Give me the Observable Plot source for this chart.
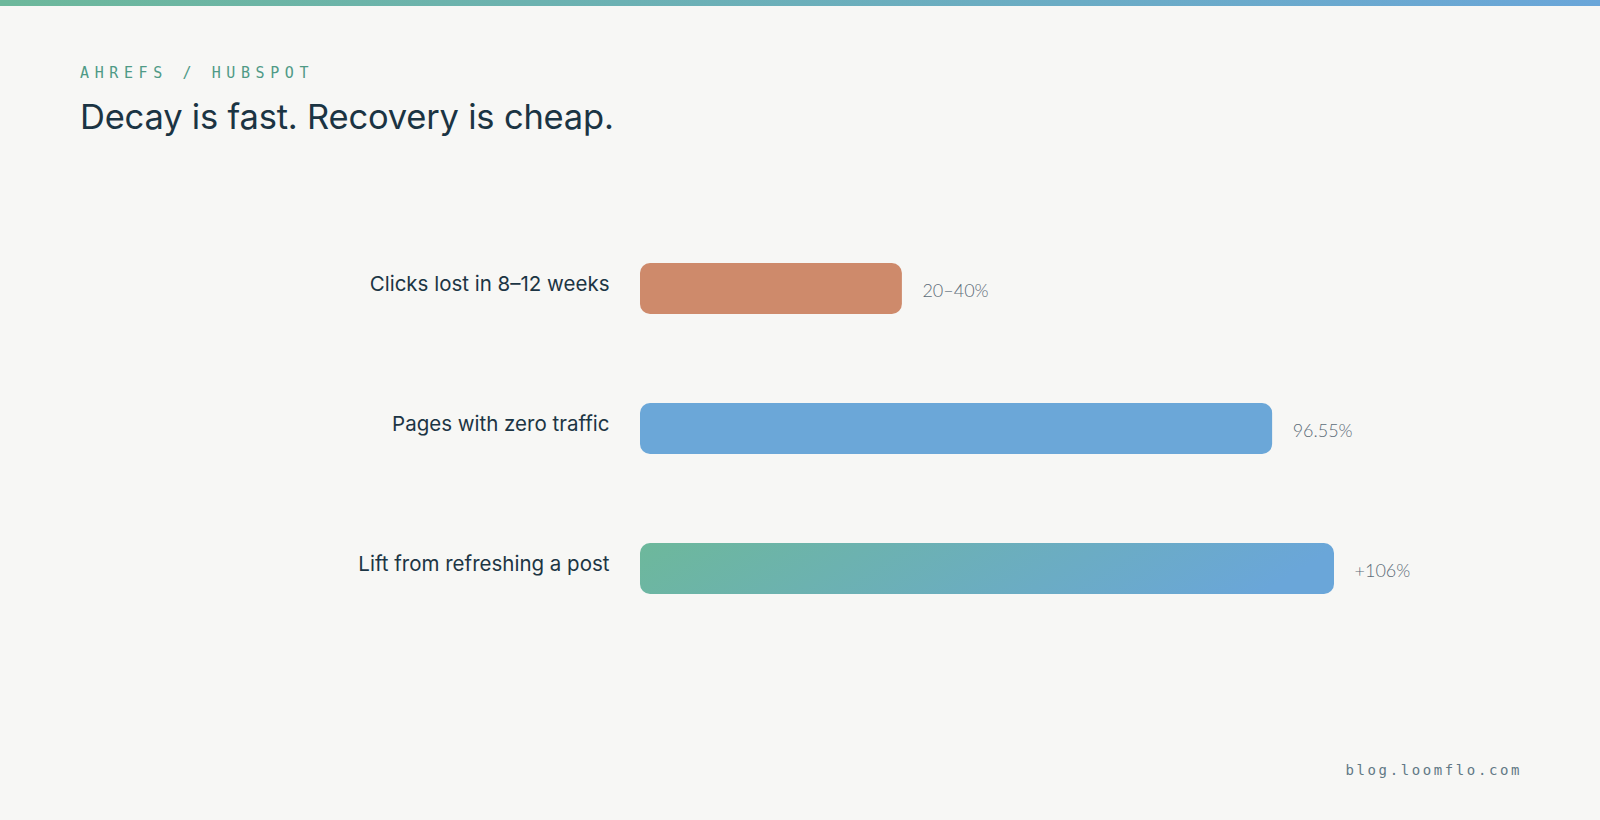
<!DOCTYPE html>
<html>
<head>
<meta charset="utf-8">
<script src="https://cdn.jsdelivr.net/npm/d3@7"></script>
<script src="https://cdn.jsdelivr.net/npm/@observablehq/plot@0.6"></script>
<style>
  html, body { margin: 0; padding: 0; background: #f7f7f5; }
  body { width: 1600px; height: 820px; position: relative; overflow: hidden; font-family: Inter, "Noto Sans", sans-serif; }
  .stripe { position: absolute; left: 0; top: 0; width: 1600px; height: 6px; background: linear-gradient(90deg, #6db89b, #6aa6d9); }
  .kicker { position: absolute; left: 80px; top: 64px; font-family: "DejaVu Sans Mono", monospace; font-size: 15px; letter-spacing: 5.6px; color: #4f9a86; }
  .title { position: absolute; left: 80px; top: 96px; font-size: 34.5px; font-weight: 400; color: #1b3443; letter-spacing: -0.2px; }
  .footer { position: absolute; right: 78px; top: 762px; font-family: "DejaVu Sans Mono", monospace; font-size: 14px; letter-spacing: 2.6px; color: #627985; font-weight: 400; }
  #chart { position: absolute; left: 0; top: 218px; }
</style>
</head>
<body>
<div class="stripe"></div>
<div class="kicker">AHREFS / HUBSPOT</div>
<div class="title">Decay is fast. Recovery is cheap.</div>
<div id="chart"></div>
<div class="footer">blog.loomflo.com</div>
<script>
const categories = ["Clicks lost in 8–12 weeks", "Pages with zero traffic", "Lift from refreshing a post"];
const values = [40, 96.55, 106];
const valueLabels = ["20–40%", "96.55%", "+106%"];
const barColors = ["#ce8a6b", "#6ba7d8", "url(#liftGradient)"];

const data = categories.map((c, i) => ({category: c, value: values[i], label: valueLabels[i], color: barColors[i]}));

const chart = Plot.plot({
  width: 1600,
  height: 420,
  marginLeft: 640,
  marginRight: 266,
  marginTop: 0,
  marginBottom: 0,
  style: {background: "transparent", overflow: "visible"},
  x: {domain: [0, 106], axis: null},
  y: {domain: categories, axis: null, paddingInner: 0.636, paddingOuter: 0.318},
  color: {type: "identity"},
  marks: [
    Plot.barX(data, {x: "value", y: "category", fill: "color", rx: 10, ry: 10}),
    Plot.text(data, {x: 0, y: "category", text: "category", textAnchor: "end", dx: -31, dy: -5,
      fontSize: 20.5, fontWeight: 400, fill: "#1c3544", fontFamily: "Inter, sans-serif"}),
    Plot.text(data, {x: "value", y: "category", text: "label", textAnchor: "start", dx: 20, dy: 2,
      fontSize: 18, fontWeight: 300, fill: "#5d6c78", fontFamily: "Lato, sans-serif"})
  ]
});

const defs = d3.select(chart).insert("defs", ":first-child");
const grad = defs.append("linearGradient").attr("id", "liftGradient")
  .attr("x1", 0).attr("y1", 0).attr("x2", 1).attr("y2", 0.12);
grad.append("stop").attr("offset", "0%").attr("stop-color", "#6db89b");
grad.append("stop").attr("offset", "100%").attr("stop-color", "#6aa6d9");

document.getElementById("chart").appendChild(chart);
</script>
</body>
</html>
